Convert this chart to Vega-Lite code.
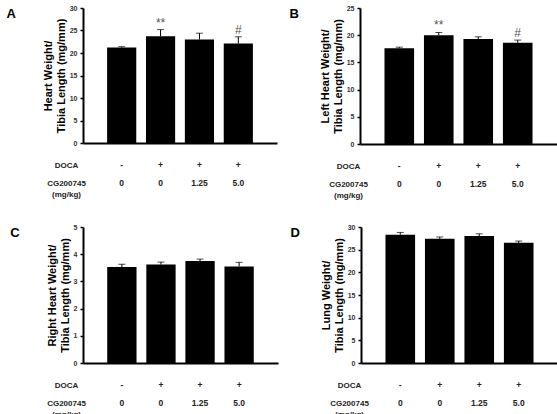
{
  "$schema": "https://vega.github.io/schema/vega-lite/v6.json",
  "padding": {"left": 6, "top": 4, "right": 0, "bottom": 0},
  "background": "white",
  "spacing": 24,
  "config": {
    "view": {"stroke": null},
    "font": "Liberation Sans",
    "concat": {"spacing": 12},
    "axis": {"grid": false, "labelFont": "Liberation Sans", "titleFont": "Liberation Sans"},
    "axisY": {"titleFontSize": 11, "titleFontWeight": "bold", "titleColor": "#000", "titlePadding": 3, "titleLineHeight": 13, "labelFontSize": 7, "labelFontWeight": "bold", "labelColor": "#333", "tickSize": 3, "tickWidth": 1.5, "tickColor": "#000", "domainWidth": 2, "domainColor": "#000", "labelPadding": 3, "labelOverlap": false},
    "title": {"font": "Liberation Sans", "fontSize": 13, "fontWeight": "bold", "orient": "left", "anchor": "end", "angle": 0, "baseline": "top", "align": "left", "frame": "group", "offset": 17}
  },
  "datasets": {
    "bars": [
      {"panel": "A", "g": "1", "mean": 21.2, "err": 0.2, "sig": ""},
      {"panel": "A", "g": "2", "mean": 23.7, "err": 1.5, "sig": "**"},
      {"panel": "A", "g": "3", "mean": 23.0, "err": 1.4, "sig": ""},
      {"panel": "A", "g": "4", "mean": 22.1, "err": 1.5, "sig": "#"},
      {"panel": "B", "g": "1", "mean": 17.6, "err": 0.2, "sig": ""},
      {"panel": "B", "g": "2", "mean": 20.0, "err": 0.5, "sig": "**"},
      {"panel": "B", "g": "3", "mean": 19.3, "err": 0.4, "sig": ""},
      {"panel": "B", "g": "4", "mean": 18.6, "err": 0.5, "sig": "#"},
      {"panel": "C", "g": "1", "mean": 3.53, "err": 0.1, "sig": ""},
      {"panel": "C", "g": "2", "mean": 3.62, "err": 0.09, "sig": ""},
      {"panel": "C", "g": "3", "mean": 3.75, "err": 0.07, "sig": ""},
      {"panel": "C", "g": "4", "mean": 3.55, "err": 0.15, "sig": ""},
      {"panel": "D", "g": "1", "mean": 28.3, "err": 0.5, "sig": ""},
      {"panel": "D", "g": "2", "mean": 27.4, "err": 0.4, "sig": ""},
      {"panel": "D", "g": "3", "mean": 28.0, "err": 0.5, "sig": ""},
      {"panel": "D", "g": "4", "mean": 26.5, "err": 0.4, "sig": ""}
    ],
    "table": [
      {"g": "1", "row": "DOCA", "val": "-"},
      {"g": "2", "row": "DOCA", "val": "+"},
      {"g": "3", "row": "DOCA", "val": "+"},
      {"g": "4", "row": "DOCA", "val": "+"},
      {"g": "1", "row": "CG", "val": "0"},
      {"g": "2", "row": "CG", "val": "0"},
      {"g": "3", "row": "CG", "val": "1.25"},
      {"g": "4", "row": "CG", "val": "5.0"}
    ]
  },
  "vconcat": [
    {
      "hconcat": [
        {
          "spacing": 10,
          "vconcat": [
            {
              "title": {"text": "A"},
              "width": 194, "height": 135,
              "data": {"name": "bars"},
              "transform": [{"filter": "datum.panel == 'A'"}, {"calculate": "datum.mean + datum.err", "as": "hi"}],
              "encoding": {
                "x": {"field": "g", "type": "nominal", "scale": {"type": "band", "paddingInner": 0.25, "paddingOuter": 0.62}, "axis": {"labels": false, "ticks": false, "title": null, "domainWidth": 2, "domainColor": "#000"}}
              },
              "layer": [
                {"mark": {"type": "bar", "color": "#000"}, "encoding": {"y": {"field": "mean", "type": "quantitative", "scale": {"domain": [0, 30], "nice": false}, "axis": {"values": [0, 5, 10, 15, 20, 25, 30], "title": ["Heart Weight/", "Tibia Length (mg/mm)"]}}}},
                {"mark": {"type": "rule", "color": "#000", "strokeWidth": 1}, "encoding": {"y": {"field": "mean", "type": "quantitative", "axis": {"values": [0, 5, 10, 15, 20, 25, 30], "title": ["Heart Weight/", "Tibia Length (mg/mm)"]}}, "y2": {"field": "hi"}}},
                {"mark": {"type": "tick", "color": "#000", "thickness": 1, "size": 7}, "encoding": {"y": {"field": "hi", "type": "quantitative", "axis": {"values": [0, 5, 10, 15, 20, 25, 30], "title": ["Heart Weight/", "Tibia Length (mg/mm)"]}}}},
                {"mark": {"type": "text", "dy": -7, "fontSize": 12, "color": "#555"}, "encoding": {"y": {"field": "hi", "type": "quantitative", "axis": {"values": [0, 5, 10, 15, 20, 25, 30], "title": ["Heart Weight/", "Tibia Length (mg/mm)"]}}, "text": {"field": "sig"}}}
              ]
            },
            {
              "width": 194, "height": 36,
              "data": {"name": "table"},
              "mark": {"type": "text", "fontSize": 8.5, "fontWeight": "bold", "color": "#222"},
              "encoding": {
                "x": {"field": "g", "type": "nominal", "scale": {"type": "band", "paddingInner": 0.25, "paddingOuter": 0.62}, "axis": null},
                "y": {"field": "row", "type": "nominal", "scale": {"domain": ["DOCA", "CG"], "paddingInner": 0, "paddingOuter": 0}, "axis": {"domain": false, "ticks": false, "title": null, "labelFontSize": 8, "labelFontWeight": "bold", "labelColor": "#222", "labelAlign": "center", "labelPadding": 17, "labelLineHeight": 11, "labelExpr": "datum.value == 'CG' ? ['CG200745', '(mg/kg)'] : datum.value"}},
                "text": {"field": "val"}
              }
            }
          ]
        },
        {
          "spacing": 10,
          "vconcat": [
            {
              "title": {"text": "B", "offset": 11},
              "width": 197, "height": 136,
              "data": {"name": "bars"},
              "transform": [{"filter": "datum.panel == 'B'"}, {"calculate": "datum.mean + datum.err", "as": "hi"}],
              "encoding": {
                "x": {"field": "g", "type": "nominal", "scale": {"type": "band", "paddingInner": 0.25, "paddingOuter": 0.62}, "axis": {"labels": false, "ticks": false, "title": null, "domainWidth": 2, "domainColor": "#000"}}
              },
              "layer": [
                {"mark": {"type": "bar", "color": "#000"}, "encoding": {"y": {"field": "mean", "type": "quantitative", "scale": {"domain": [0, 25], "nice": false}, "axis": {"values": [0, 5, 10, 15, 20, 25], "title": ["Left Heart Weight/", "Tibia Length (mg/mm)"]}}}},
                {"mark": {"type": "rule", "color": "#000", "strokeWidth": 1}, "encoding": {"y": {"field": "mean", "type": "quantitative", "axis": {"values": [0, 5, 10, 15, 20, 25], "title": ["Left Heart Weight/", "Tibia Length (mg/mm)"]}}, "y2": {"field": "hi"}}},
                {"mark": {"type": "tick", "color": "#000", "thickness": 1, "size": 7}, "encoding": {"y": {"field": "hi", "type": "quantitative", "axis": {"values": [0, 5, 10, 15, 20, 25], "title": ["Left Heart Weight/", "Tibia Length (mg/mm)"]}}}},
                {"mark": {"type": "text", "dy": -7, "fontSize": 12, "color": "#555"}, "encoding": {"y": {"field": "hi", "type": "quantitative", "axis": {"values": [0, 5, 10, 15, 20, 25], "title": ["Left Heart Weight/", "Tibia Length (mg/mm)"]}}, "text": {"field": "sig"}}}
              ]
            },
            {
              "width": 197, "height": 36,
              "data": {"name": "table"},
              "mark": {"type": "text", "fontSize": 8.5, "fontWeight": "bold", "color": "#222"},
              "encoding": {
                "x": {"field": "g", "type": "nominal", "scale": {"type": "band", "paddingInner": 0.25, "paddingOuter": 0.62}, "axis": null},
                "y": {"field": "row", "type": "nominal", "scale": {"domain": ["DOCA", "CG"], "paddingInner": 0, "paddingOuter": 0}, "axis": {"domain": false, "ticks": false, "title": null, "labelFontSize": 8, "labelFontWeight": "bold", "labelColor": "#222", "labelAlign": "center", "labelPadding": 12, "labelLineHeight": 11, "labelExpr": "datum.value == 'CG' ? ['CG200745', '(mg/kg)'] : datum.value"}},
                "text": {"field": "val"}
              }
            }
          ]
        }
      ]
    },
    {
      "hconcat": [
        {
          "spacing": 10,
          "vconcat": [
            {
              "title": {"text": "C"},
              "width": 195, "height": 136,
              "data": {"name": "bars"},
              "transform": [{"filter": "datum.panel == 'C'"}, {"calculate": "datum.mean + datum.err", "as": "hi"}],
              "encoding": {
                "x": {"field": "g", "type": "nominal", "scale": {"type": "band", "paddingInner": 0.25, "paddingOuter": 0.62}, "axis": {"labels": false, "ticks": false, "title": null, "domainWidth": 2, "domainColor": "#000"}}
              },
              "layer": [
                {"mark": {"type": "bar", "color": "#000"}, "encoding": {"y": {"field": "mean", "type": "quantitative", "scale": {"domain": [0, 5], "nice": false}, "axis": {"values": [0, 1, 2, 3, 4, 5], "title": ["Right Heart Weight/", "Tibia Length (mg/mm)"]}}}},
                {"mark": {"type": "rule", "color": "#000", "strokeWidth": 1}, "encoding": {"y": {"field": "mean", "type": "quantitative", "axis": {"values": [0, 1, 2, 3, 4, 5], "title": ["Right Heart Weight/", "Tibia Length (mg/mm)"]}}, "y2": {"field": "hi"}}},
                {"mark": {"type": "tick", "color": "#000", "thickness": 1, "size": 7}, "encoding": {"y": {"field": "hi", "type": "quantitative", "axis": {"values": [0, 1, 2, 3, 4, 5], "title": ["Right Heart Weight/", "Tibia Length (mg/mm)"]}}}}
              ]
            },
            {
              "width": 195, "height": 36,
              "data": {"name": "table"},
              "mark": {"type": "text", "fontSize": 8.5, "fontWeight": "bold", "color": "#222"},
              "encoding": {
                "x": {"field": "g", "type": "nominal", "scale": {"type": "band", "paddingInner": 0.25, "paddingOuter": 0.62}, "axis": null},
                "y": {"field": "row", "type": "nominal", "scale": {"domain": ["DOCA", "CG"], "paddingInner": 0, "paddingOuter": 0}, "axis": {"domain": false, "ticks": false, "title": null, "labelFontSize": 8, "labelFontWeight": "bold", "labelColor": "#222", "labelAlign": "center", "labelPadding": 17, "labelLineHeight": 11, "labelExpr": "datum.value == 'CG' ? ['CG200745', '(mg/kg)'] : datum.value"}},
                "text": {"field": "val"}
              }
            }
          ]
        },
        {
          "spacing": 10,
          "vconcat": [
            {
              "title": {"text": "D", "offset": 11},
              "width": 197, "height": 136,
              "data": {"name": "bars"},
              "transform": [{"filter": "datum.panel == 'D'"}, {"calculate": "datum.mean + datum.err", "as": "hi"}],
              "encoding": {
                "x": {"field": "g", "type": "nominal", "scale": {"type": "band", "paddingInner": 0.25, "paddingOuter": 0.62}, "axis": {"labels": false, "ticks": false, "title": null, "domainWidth": 2, "domainColor": "#000"}}
              },
              "layer": [
                {"mark": {"type": "bar", "color": "#000"}, "encoding": {"y": {"field": "mean", "type": "quantitative", "scale": {"domain": [0, 30], "nice": false}, "axis": {"values": [0, 5, 10, 15, 20, 25, 30], "title": ["Lung Weight/", "Tibia Length (mg/mm)"]}}}},
                {"mark": {"type": "rule", "color": "#000", "strokeWidth": 1}, "encoding": {"y": {"field": "mean", "type": "quantitative", "axis": {"values": [0, 5, 10, 15, 20, 25, 30], "title": ["Lung Weight/", "Tibia Length (mg/mm)"]}}, "y2": {"field": "hi"}}},
                {"mark": {"type": "tick", "color": "#000", "thickness": 1, "size": 7}, "encoding": {"y": {"field": "hi", "type": "quantitative", "axis": {"values": [0, 5, 10, 15, 20, 25, 30], "title": ["Lung Weight/", "Tibia Length (mg/mm)"]}}}}
              ]
            },
            {
              "width": 197, "height": 36,
              "data": {"name": "table"},
              "mark": {"type": "text", "fontSize": 8.5, "fontWeight": "bold", "color": "#222"},
              "encoding": {
                "x": {"field": "g", "type": "nominal", "scale": {"type": "band", "paddingInner": 0.25, "paddingOuter": 0.62}, "axis": null},
                "y": {"field": "row", "type": "nominal", "scale": {"domain": ["DOCA", "CG"], "paddingInner": 0, "paddingOuter": 0}, "axis": {"domain": false, "ticks": false, "title": null, "labelFontSize": 8, "labelFontWeight": "bold", "labelColor": "#222", "labelAlign": "center", "labelPadding": 12, "labelLineHeight": 11, "labelExpr": "datum.value == 'CG' ? ['CG200745', '(mg/kg)'] : datum.value"}},
                "text": {"field": "val"}
              }
            }
          ]
        }
      ]
    }
  ]
}
